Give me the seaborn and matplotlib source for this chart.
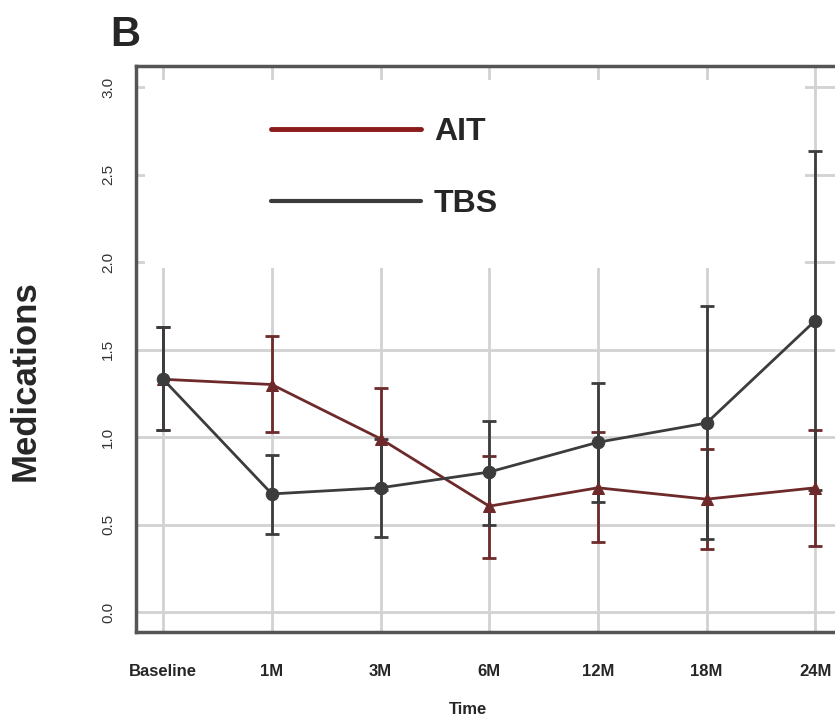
import matplotlib
matplotlib.use("Agg")
import matplotlib.pyplot as plt
import pandas as pd
import seaborn as sns
from matplotlib.patches import Rectangle

# values
timepoints = ["Baseline", "1M", "3M", "6M", "12M", "18M", "24M"]
ait_mean = [1.33, 1.30, 0.99, 0.605, 0.71, 0.645, 0.71]
ait_low = [1.04, 1.03, 0.70, 0.31, 0.40, 0.36, 0.38]
ait_high = [1.63, 1.58, 1.28, 0.89, 1.03, 0.93, 1.04]
tbs_mean = [1.33, 0.675, 0.71, 0.80, 0.97, 1.08, 1.665]
tbs_low = [1.04, 0.445, 0.43, 0.50, 0.63, 0.42, 0.70]
tbs_high = [1.63, 0.90, 0.99, 1.09, 1.31, 1.75, 2.635]
y_ticks = [0.0, 0.5, 1.0, 1.5, 2.0, 2.5, 3.0]

ait_color = "#6e2a2a"
tbs_color = "#3c3c3c"

sns.set_style("white")
plt.rcParams["font.family"] = ["Liberation Sans", "DejaVu Sans"]

df = pd.DataFrame({
    "pos": list(range(len(timepoints))) * 2,
    "Medications": ait_mean + tbs_mean,
    "low": ait_low + tbs_low,
    "high": ait_high + tbs_high,
    "group": ["AIT"] * len(timepoints) + ["TBS"] * len(timepoints),
})

fig = plt.figure(figsize=(8.35, 7.2), dpi=100)
ax = fig.add_axes([136 / 835, 88 / 720, 714 / 835, 566 / 720])

palette = {"AIT": ait_color, "TBS": tbs_color}
markers = {"AIT": "^", "TBS": "o"}
for name, sub in df.groupby("group"):
    ax.errorbar(sub["pos"], sub["Medications"],
                yerr=[sub["Medications"] - sub["low"], sub["high"] - sub["Medications"]],
                fmt="none", ecolor=palette[name], elinewidth=2, capsize=5,
                capthick=2, zorder=3)

sns.lineplot(data=df, x="pos", y="Medications", hue="group", style="group",
             palette=palette, markers=markers, dashes=False, markersize=9,
             markeredgecolor=None, linewidth=2, ax=ax, legend=False, zorder=4)

ax.set_xlim(-0.25, 6.32)
ax.set_ylim(-0.114, 3.12)
ax.set_xticks(range(len(timepoints)))
ax.set_xticklabels(timepoints, fontsize=12, fontweight="bold",
                   family=["Liberation Sans Narrow", "Liberation Sans"])
ax.set_yticks(y_ticks)
ax.set_yticklabels([f"{v:.1f}" for v in y_ticks], rotation=90, va="center",
                   fontsize=11, color="#333333")

ax.set_axisbelow(True)
ax.grid(True, color="#d2d2d2", linewidth=2)
# white box behind the legend hides the grid there
ax.add_patch(Rectangle((0.0126, 0.643), 0.925, 0.332, transform=ax.transAxes,
                       facecolor="white", edgecolor="none", zorder=1))

ax.tick_params(axis="both", direction="out", length=9, width=2,
               color="#555555", pad=14)
ax.tick_params(axis="y", pad=6)
for side in ["left", "bottom", "top"]:
    ax.spines[side].set_color("#555555")
    ax.spines[side].set_linewidth(2.5)
ax.spines["right"].set_visible(False)

ax.set_xlabel("Time", fontsize=12, fontweight="bold",
              family=["Liberation Sans Narrow", "Liberation Sans"])
ax.xaxis.set_label_coords(332 / 714, -78 / 566)
ax.xaxis.label.set_va("center")
ax.set_ylabel("Medications", fontsize=25, fontweight="bold")
ax.yaxis.set_label_coords(-94 / 714, 0.445)

handles = [plt.Line2D([], [], color="#8b1a1a", linewidth=3.5),
           plt.Line2D([], [], color=tbs_color, linewidth=3)]
ax.legend(handles, ["AIT", "TBS"], loc="upper left",
          bbox_to_anchor=(0.149, 0.96), frameon=False,
          prop={"weight": "bold", "size": 23}, handlelength=4.7,
          handletextpad=0.4, labelspacing=1.3)

fig.text(110 / 835, 1 - 46 / 720, "B", fontsize=30, fontweight="bold")

fig.savefig("out.png", dpi=100)
